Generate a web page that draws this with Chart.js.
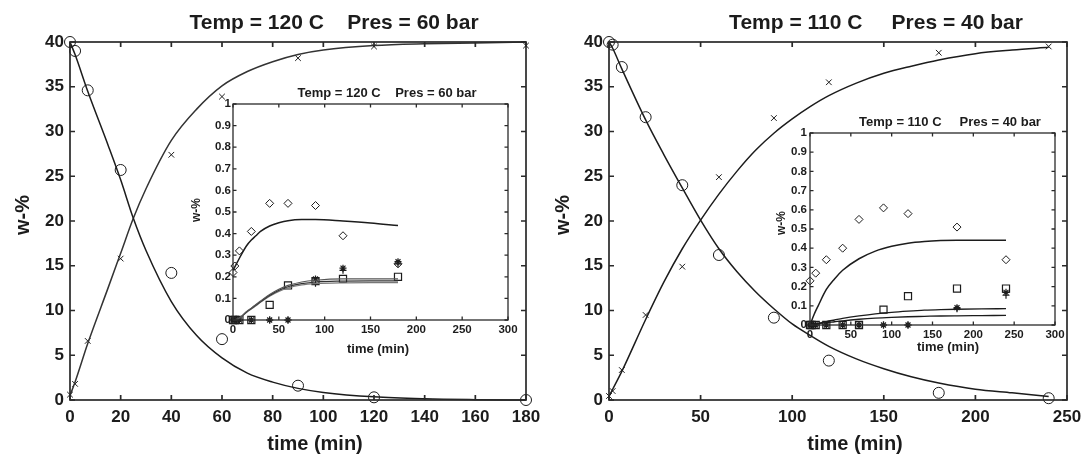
<!DOCTYPE html>
<html>
<head>
<meta charset="utf-8">
<script src="https://cdn.jsdelivr.net/npm/chart.js@4/dist/chart.umd.min.js"></script>
<style>
  html, body { margin: 0; padding: 0; background: #fff; }
  #fig { position: relative; width: 1085px; height: 462px; overflow: hidden; background: #fff; }
  #fig canvas { position: absolute; }
</style>
</head>
<body>
<div id="fig">
  <canvas id="mainA" width="545" height="462" style="left:0;top:0"></canvas>
  <canvas id="mainB" width="540" height="462" style="left:545px;top:0"></canvas>
  <canvas id="insetA" width="335" height="280" style="left:185px;top:80px"></canvas>
  <canvas id="insetB" width="310" height="250" style="left:765px;top:110px"></canvas>
</div>
<script>
// ---------- Run A: 120 C, 60 bar ----------
const timeA      = [0, 2, 7, 20, 40, 60, 90, 120, 180];
const feedA      = [40, 39.0, 34.6, 25.7, 14.2, 6.8, 1.6, 0.3, 0];
const productA   = [0.6, 1.8, 6.6, 15.8, 27.4, 33.9, 38.2, 39.5, 39.6];
const fitTimeA   = [0, 2, 7, 15, 20, 25, 30, 40, 50, 60, 70, 80, 90, 100, 120, 140, 160, 180];
const feedFitA   = [40, 38.6, 34.5, 28.5, 24.6, 20.3, 16.7, 11.0, 7.2, 4.7, 3.0, 2.0, 1.3, 0.85, 0.35, 0.13, 0.04, 0];
const prodFitA   = [0.5, 2.0, 6.3, 12.5, 16.4, 20.3, 23.6, 29.0, 32.5, 35.1, 36.7, 37.8, 38.6, 39.1, 39.6, 39.8, 39.9, 40];

// minor components, run A
const minorTimeA = [0, 2, 7, 20, 40, 60, 90, 120, 180];
const diamondA   = [0.22, 0.25, 0.32, 0.41, 0.54, 0.54, 0.53, 0.39, 0.26];
const squareA    = [0, 0, 0, 0, 0.07, 0.16, 0.18, 0.19, 0.20];
const starA      = [0, 0, 0, 0, 0, 0, 0.19, 0.24, 0.27];
const plusA      = [0, 0, 0, 0, 0, 0, 0.17, 0.23, 0.26];
const minorFitTimeA = [0, 5, 10, 15, 20, 25, 30, 40, 50, 60, 75, 90, 120, 150, 180];
const diamondFitA   = [0.23, 0.27, 0.31, 0.345, 0.37, 0.39, 0.41, 0.435, 0.45, 0.46, 0.465, 0.465, 0.458, 0.449, 0.437];
const lowFitA1      = [0, 0.005, 0.02, 0.04, 0.055, 0.072, 0.088, 0.118, 0.142, 0.16, 0.176, 0.184, 0.19, 0.19, 0.19];
const lowFitA2      = [0, 0.004, 0.018, 0.038, 0.053, 0.069, 0.085, 0.114, 0.137, 0.154, 0.168, 0.176, 0.18, 0.181, 0.181];
const lowFitA3      = [0, 0.004, 0.017, 0.036, 0.051, 0.066, 0.082, 0.11, 0.132, 0.148, 0.162, 0.168, 0.172, 0.173, 0.173];

// ---------- Run B: 110 C, 40 bar ----------
const timeB      = [0, 2, 7, 20, 40, 60, 90, 120, 180, 240];
const feedB      = [40, 39.7, 37.2, 31.6, 24.0, 16.2, 9.2, 4.4, 0.8, 0.2];
const productB   = [0.45, 1.0, 3.35, 9.5, 14.9, 24.9, 31.5, 35.5, 38.8, 39.5];
const fitTimeB   = [0, 2, 7, 20, 30, 40, 50, 60, 70, 80, 90, 100, 110, 120, 135, 150, 165, 180, 200, 220, 240];
const feedFitB   = [40, 39.3, 37.0, 31.3, 27.4, 23.7, 20.1, 16.9, 14.3, 12.1, 10.2, 8.5, 7.2, 6.0, 4.6, 3.5, 2.6, 1.9, 1.2, 0.8, 0.4];
const prodFitB   = [0.4, 1.2, 3.2, 9.0, 13.2, 16.9, 20.1, 23.0, 25.6, 27.9, 29.8, 31.4, 32.8, 34.0, 35.4, 36.5, 37.3, 38.0, 38.7, 39.1, 39.4];

// minor components, run B
const minorTimeB = [0, 2, 7, 20, 40, 60, 90, 120, 180, 240];
const diamondB   = [0.23, null, 0.27, 0.34, 0.40, 0.55, 0.61, 0.58, 0.51, 0.34];
const squareB    = [0, 0, 0, 0, 0, 0, 0.08, 0.15, 0.19, 0.19];
const starB      = [0, 0, 0, 0, 0, 0, 0, 0, 0.09, 0.17];
const plusB      = [0, 0, 0, 0, 0, 0, 0, 0, 0.085, 0.155];
const minorFitTimeB = [0, 5, 10, 20, 30, 40, 60, 80, 100, 120, 140, 160, 180, 210, 240];
const diamondFitB   = [0, 0.055, 0.1, 0.185, 0.24, 0.285, 0.345, 0.385, 0.41, 0.426, 0.435, 0.44, 0.442, 0.442, 0.442];
const lowFitB1      = [0, 0.004, 0.009, 0.018, 0.026, 0.034, 0.047, 0.058, 0.066, 0.072, 0.077, 0.08, 0.082, 0.084, 0.085];
const lowFitB2      = [0, 0.003, 0.006, 0.012, 0.017, 0.022, 0.03, 0.036, 0.04, 0.043, 0.045, 0.047, 0.048, 0.049, 0.05];

// ---------- drawing helpers ----------
const INK = '#1c1c1c';
const FAMILY = "'Liberation Sans', Arial, Helvetica, sans-serif";
const NONE = 'rgba(0,0,0,0)';

const toPoints = (xs, ys) => xs.map((x, i) => ({ x, y: ys[i] })).filter(p => p.y !== null);

function markers(xs, ys, style, radius, width) {
  return {
    data: toPoints(xs, ys), showLine: false, clip: false,
    pointStyle: style, pointRadius: radius, pointHoverRadius: radius,
    pointBorderColor: INK, pointBackgroundColor: NONE, pointBorderWidth: width || 1
  };
}
function curve(xs, ys, width, color) {
  return {
    data: toPoints(xs, ys), showLine: true, clip: false,
    borderColor: color || INK, borderWidth: width, pointRadius: 0,
    cubicInterpolationMode: 'monotone', fill: false
  };
}

// box around the plot area with inward ticks on all four sides
const boxFrame = {
  id: 'boxFrame',
  beforeDraw(chart, args, o) {
    if (!o.fill) return;
    const a = chart.chartArea, ctx = chart.ctx;
    ctx.save();
    ctx.fillStyle = o.fill;
    ctx.fillRect(a.left, a.top, a.right - a.left, a.bottom - a.top);
    ctx.restore();
  },
  afterDraw(chart, args, o) {
    const a = chart.chartArea, ctx = chart.ctx;
    const { x, y } = chart.scales;
    const L = o.tick || 5;
    ctx.save();
    ctx.strokeStyle = o.color || INK;
    ctx.lineWidth = o.width || 1.5;
    ctx.beginPath();
    x.ticks.forEach(t => {
      const p = x.getPixelForValue(t.value);
      ctx.moveTo(p, a.bottom); ctx.lineTo(p, a.bottom - L);
      ctx.moveTo(p, a.top); ctx.lineTo(p, a.top + L);
    });
    y.ticks.forEach(t => {
      const p = y.getPixelForValue(t.value);
      ctx.moveTo(a.left, p); ctx.lineTo(a.left + L, p);
      ctx.moveTo(a.right, p); ctx.lineTo(a.right - L, p);
    });
    ctx.stroke();
    ctx.strokeRect(a.left, a.top, a.right - a.left, a.bottom - a.top);
    ctx.restore();
  }
};

// titles and axis captions
const captions = {
  id: 'captions',
  afterDraw(chart, args, o) {
    const ctx = chart.ctx;
    (o.items || []).forEach(it => {
      ctx.save();
      ctx.font = it.font;
      ctx.fillStyle = INK;
      ctx.textAlign = 'center';
      ctx.textBaseline = 'middle';
      ctx.translate(it.x, it.y);
      if (it.rotate) ctx.rotate(it.rotate);
      ctx.fillText(it.text, 0, 0);
      ctx.restore();
    });
  }
};

// tick text: shortest form, so 1.0 reads "1" and 0.30000000000000004 reads "0.3"
const plainNumber = v => String(+Number(v).toFixed(2));

function panel(canvasId, datasets, cfg) {
  const tickFont = { family: FAMILY, weight: 'bold', size: cfg.tickSize };
  return new Chart(document.getElementById(canvasId), {
    type: 'scatter',
    data: { datasets },
    plugins: [boxFrame, captions],
    options: {
      responsive: false, animation: false, events: [],
      layout: { autoPadding: false, padding: cfg.padding },
      plugins: {
        legend: { display: false }, tooltip: { enabled: false },
        boxFrame: { tick: cfg.tickLen, width: cfg.frameWidth, fill: cfg.fill, color: '#2a2a2a' },
        captions: { items: cfg.captions }
      },
      scales: {
        x: {
          type: 'linear', min: cfg.xMin, max: cfg.xMax,
          ticks: { stepSize: cfg.xStep, font: tickFont, color: INK, padding: cfg.xPad, maxRotation: 0, autoSkip: false, callback: plainNumber },
          grid: { display: false, drawTicks: false }, border: { display: false },
          afterFit: s => { s.height = cfg.xAxisH; s.paddingLeft = 0; s.paddingRight = 0; }
        },
        y: {
          type: 'linear', min: cfg.yMin, max: cfg.yMax,
          ticks: { stepSize: cfg.yStep, font: tickFont, color: INK, padding: cfg.yPad, autoSkip: false, callback: plainNumber },
          grid: { display: false, drawTicks: false }, border: { display: false },
          afterFit: s => { s.width = cfg.yAxisW; s.paddingTop = 0; s.paddingBottom = 0; }
        }
      }
    }
  });
}

const bigTitle = `bold 21px ${FAMILY}`;
const bigAxis = `bold 20px ${FAMILY}`;
const smallTitle = `bold 13px ${FAMILY}`;
const smallAxis = `bold 13px ${FAMILY}`;

// ---------- main panels ----------
panel('mainA', [
  curve(fitTimeA, feedFitA, 1.5),
  curve(fitTimeA, prodFitA, 1.5, '#333'),
  markers(timeA, feedA, 'circle', 5.5),
  markers(timeA, productA, 'crossRot', 4)
], {
  xMin: 0, xMax: 180, xStep: 20, yMin: 0, yMax: 40, yStep: 5,
  tickSize: 17, xPad: 7, yPad: 6, yAxisW: 70, xAxisH: 62,
  padding: { top: 42, right: 19, bottom: 0, left: 0 },
  tickLen: 5, frameWidth: 1.7,
  captions: [
    { text: 'Temp = 120 C    Pres = 60 bar', x: 334, y: 23, font: bigTitle },
    { text: 'time (min)', x: 315, y: 444, font: bigAxis },
    { text: 'w-%', x: 23, y: 215, font: bigAxis, rotate: -Math.PI / 2 }
  ]
});

panel('mainB', [
  curve(fitTimeB, feedFitB, 1.5),
  curve(fitTimeB, prodFitB, 1.5),
  markers(timeB, feedB, 'circle', 5.5),
  markers(timeB, productB, 'crossRot', 4)
], {
  xMin: 0, xMax: 250, xStep: 50, yMin: 0, yMax: 40, yStep: 5,
  tickSize: 17, xPad: 7, yPad: 6, yAxisW: 64, xAxisH: 62,
  padding: { top: 42, right: 18, bottom: 0, left: 0 },
  tickLen: 5, frameWidth: 1.7,
  captions: [
    { text: 'Temp = 110 C     Pres = 40 bar', x: 331, y: 23, font: bigTitle },
    { text: 'time (min)', x: 310, y: 444, font: bigAxis },
    { text: 'w-%', x: 18, y: 215, font: bigAxis, rotate: -Math.PI / 2 }
  ]
});

// ---------- inset panels (minor components) ----------
panel('insetA', [
  curve(minorFitTimeA, diamondFitA, 1.5),
  curve(minorFitTimeA, lowFitA1, 1.2, '#555'),
  curve(minorFitTimeA, lowFitA2, 1.2, '#333'),
  curve(minorFitTimeA, lowFitA3, 1.2, '#777'),
  markers(minorTimeA, diamondA, 'rectRot', 4),
  markers(minorTimeA, squareA, 'rect', 5, 1.2),
  markers(minorTimeA, starA, 'star', 3.5, 1.2),
  markers(minorTimeA, plusA, 'cross', 3.5, 1.2)
], {
  xMin: 0, xMax: 300, xStep: 50, yMin: 0, yMax: 1, yStep: 0.1,
  tickSize: 11.5, xPad: 3, yPad: 2, yAxisW: 48, xAxisH: 40,
  padding: { top: 24, right: 12, bottom: 0, left: 0 },
  tickLen: 3.5, frameWidth: 1.3, fill: '#fff',
  captions: [
    { text: 'Temp = 120 C    Pres = 60 bar', x: 202, y: 13, font: smallTitle },
    { text: 'time (min)', x: 193, y: 269, font: smallAxis },
    { text: 'w-%', x: 12, y: 130, font: `bold 12px ${FAMILY}`, rotate: -Math.PI / 2 }
  ]
});

panel('insetB', [
  curve(minorFitTimeB, diamondFitB, 1.5),
  curve(minorFitTimeB, lowFitB1, 1.3),
  curve(minorFitTimeB, lowFitB2, 1.3),
  markers(minorTimeB, diamondB, 'rectRot', 4),
  markers(minorTimeB, squareB, 'rect', 5, 1.2),
  markers(minorTimeB, starB, 'star', 3.5, 1.2),
  markers(minorTimeB, plusB, 'cross', 3.5, 1.2)
], {
  xMin: 0, xMax: 300, xStep: 50, yMin: 0, yMax: 1, yStep: 0.1,
  tickSize: 11.5, xPad: 3, yPad: 3, yAxisW: 45, xAxisH: 35,
  padding: { top: 23, right: 20, bottom: 0, left: 0 },
  tickLen: 3.5, frameWidth: 1.3, fill: '#fff',
  captions: [
    { text: 'Temp = 110 C     Pres = 40 bar', x: 185, y: 12, font: smallTitle },
    { text: 'time (min)', x: 183, y: 237, font: smallAxis },
    { text: 'w-%', x: 17, y: 113, font: `bold 12px ${FAMILY}`, rotate: -Math.PI / 2 }
  ]
});
</script>
</body>
</html>
